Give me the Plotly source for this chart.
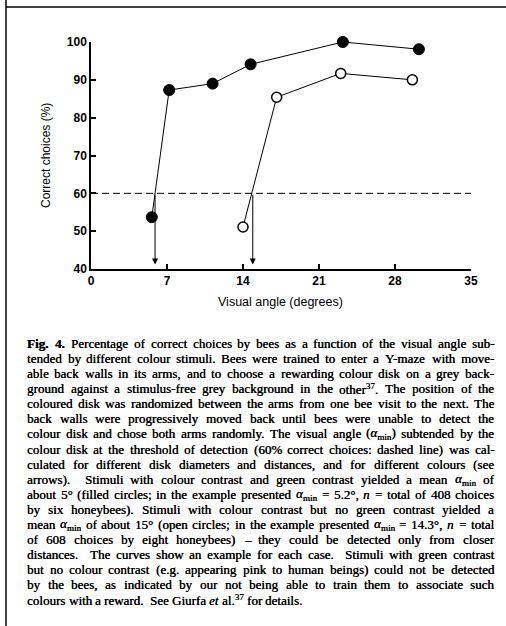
import re
import plotly.graph_objects as go

# ---- data ----
filled_x = [5.6, 7.2, 11.2, 14.7, 23.2, 30.2]
filled_y = [53.7, 87.3, 89.0, 94.1, 100.0, 98.1]
open_x = [14.0, 17.1, 23.0, 29.6]
open_y = [51.1, 85.4, 91.7, 90.0]
threshold = 60
arrow_x = [5.9, 14.9]
x_ticks = [0, 7, 14, 21, 28, 35]
y_ticks = [40, 50, 60, 70, 80, 90, 100]

caption_lines = [
    "<b>Fig.</b> <b>4.</b> Percentage of correct choices by bees as a function of the visual angle sub-",
    "tended by different colour stimuli. Bees were trained to enter a Y-maze with move-",
    "able back walls in its arms, and to choose a rewarding colour disk on a grey back-",
    "ground against a stimulus-free grey background in the other<sup>37</sup>. The position of the",
    "coloured disk was randomized between the arms from one bee visit to the next. The",
    "back walls were progressively moved back until bees were unable to detect the",
    "colour disk and chose both arms randomly. The visual angle (<i>α</i><sub>min</sub>) subtended by the",
    "colour disk at the threshold of detection (60% correct choices: dashed line) was cal-",
    "culated for different disk diameters and distances, and for different colours (see",
    "arrows).  Stimuli with colour contrast and green contrast yielded a mean <i>α</i><sub>min</sub> of",
    "about 5° (filled circles; in the example presented <i>α</i><sub>min</sub> = 5.2°, <i>n</i> = total of 408 choices",
    "by six honeybees). Stimuli with colour contrast but no green contrast yielded a",
    "mean <i>α</i><sub>min</sub> of about 15° (open circles; in the example presented <i>α</i><sub>min</sub> = 14.3°, <i>n</i> = total",
    "of 608 choices by eight honeybees) – they could be detected only from closer",
    "distances.  The curves show an example for each case.  Stimuli with green contrast",
    "but no colour contrast (e.g. appearing pink to human beings) could not be detected",
    "by the bees, as indicated by our not being able to train them to associate such",
    "colours with a reward.  See Giurfa <i>et al.</i><sup>37</sup> for details.",
]

W, H = 506, 626
ML, MR, MT, MB = 91, 35, 42, 357
PW, PH = W - ML - MR, H - MT - MB


def px(x):
    return (x - ML) / PW


def py(y):
    return (H - MB - y) / PH


# approximate Times (Liberation Serif) advance widths, per 1000 em
TW = {' ': 250, 'a': 444, 'b': 500, 'c': 444, 'd': 500, 'e': 444, 'f': 333, 'g': 500,
      'h': 500, 'i': 278, 'j': 278, 'k': 500, 'l': 278, 'm': 778, 'n': 500, 'o': 500,
      'p': 500, 'q': 500, 'r': 333, 's': 389, 't': 278, 'u': 500, 'v': 500, 'w': 722,
      'x': 500, 'y': 500, 'z': 444, 'A': 722, 'B': 667, 'C': 667, 'D': 722, 'E': 611,
      'F': 556, 'G': 722, 'H': 722, 'I': 333, 'J': 389, 'K': 722, 'L': 611, 'M': 889,
      'N': 722, 'O': 722, 'P': 556, 'Q': 722, 'R': 667, 'S': 556, 'T': 611, 'U': 722,
      'V': 722, 'W': 944, 'X': 722, 'Y': 722, 'Z': 611, '.': 250, ',': 250, ';': 278,
      ':': 278, '(': 333, ')': 333, '-': 333, '–': 500, '%': 833, '°': 400, '=': 564,
      'α': 520}


def word_width(html, size):
    total = 0.0
    scale = 1.0
    bold = False
    for tok in re.split(r'(<[^>]+>)', html):
        if tok.startswith('<'):
            t = tok.strip('<>/').lower()
            closing = tok.startswith('</')
            if t in ('sub', 'sup'):
                scale = 1.0 if closing else 0.7
            elif t == 'b':
                bold = not closing
            continue
        for ch in tok:
            w = TW.get(ch, 500)
            if bold:
                w *= 1.08
            total += w * scale
    return total * size / 1000.0


FS = 13
X_LEFT, X_RIGHT = 26, 493
Y0, DY = 343.3, 15.1
cap_font = dict(family="Liberation Serif", size=FS, color="black",
                shadow="0.35px 0px 0px #000")

fig = go.Figure()

fig.add_trace(go.Scatter(
    x=filled_x, y=filled_y, mode="lines+markers",
    line=dict(color="black", width=1),
    marker=dict(color="black", size=11, line=dict(color="black", width=1)),
    cliponaxis=False, showlegend=False, hoverinfo="skip"))

fig.add_trace(go.Scatter(
    x=open_x, y=open_y, mode="lines+markers",
    line=dict(color="black", width=1),
    marker=dict(color="white", size=10, line=dict(color="black", width=1.5)),
    cliponaxis=False, showlegend=False, hoverinfo="skip"))

shapes = [
    dict(type="line", xref="x", yref="y", x0=0, x1=35, y0=threshold, y1=threshold,
         line=dict(color="black", width=1, dash="7px,4px")),
    # page frame
    dict(type="line", xref="paper", yref="paper", x0=px(6), x1=px(6), y0=py(0), y1=py(626),
         line=dict(color="black", width=1.5)),
    dict(type="line", xref="paper", yref="paper", x0=px(6), x1=px(506), y0=py(7), y1=py(7),
         line=dict(color="black", width=1.5)),
]

annotations = []
for ax_ in arrow_x:
    annotations.append(dict(
        x=ax_, y=41.2, ax=ax_, ay=threshold, xref="x", yref="y", axref="x", ayref="y",
        showarrow=True, arrowhead=2, arrowsize=1.2, arrowwidth=1, arrowcolor="black", text=""))

n_lines = len(caption_lines)
for i, line in enumerate(caption_lines):
    yy = py(Y0 + i * DY)
    parts = line.split(' ')
    words, gaps = [], []
    g = 0
    for p in parts:
        if p == '':
            g += 1
            continue
        if words:
            gaps.append(g + 1)
        words.append(p)
        g = 0
    widths = [word_width(w, FS) for w in words]
    last = (i == n_lines - 1)
    if last:
        unit = 0.25 * FS
    else:
        unit = (X_RIGHT - X_LEFT - sum(widths)) / max(sum(gaps), 1)
    x = X_LEFT
    for k, w in enumerate(words):
        annotations.append(dict(
            x=px(x), y=yy, xref="paper", yref="paper", xanchor="left",
            yanchor="middle", showarrow=False, text=w, font=cap_font, borderpad=0))
        x += widths[k]
        if k < len(gaps):
            x += gaps[k] * unit

annotations.append(dict(
    x=px(280), y=py(302), xref="paper", yref="paper", showarrow=False,
    text="Visual angle (degrees)", xanchor="center", yanchor="middle",
    font=dict(family="Liberation Sans", size=12.5, color="black")))
annotations.append(dict(
    x=px(46), y=py(156), xref="paper", yref="paper", showarrow=False,
    text="Correct choices (%)", textangle=-90, xanchor="center", yanchor="middle",
    font=dict(family="Liberation Sans", size=12, color="black")))

tick_font = dict(family="Liberation Sans", size=12, color="black", weight="bold")
fig.update_layout(
    width=W, height=H,
    margin=dict(l=ML, r=MR, t=MT, b=MB),
    paper_bgcolor="white", plot_bgcolor="white",
    hovermode=False,
    shapes=shapes, annotations=annotations,
    xaxis=dict(range=[0, 35], tickvals=x_ticks, ticktext=[str(t) for t in x_ticks],
               showgrid=False, zeroline=False, showline=True, linecolor="black", linewidth=1.5,
               ticks="inside", ticklen=5, tickcolor="black", tickwidth=1.5,
               tickfont=tick_font),
    yaxis=dict(range=[40, 100], tickvals=y_ticks, ticktext=[str(t) for t in y_ticks],
               showgrid=False, zeroline=False, showline=True, linecolor="black", linewidth=1.5,
               ticks="inside", ticklen=5, tickcolor="black", tickwidth=1.5,
               tickfont=tick_font),
)

fig.write_html("out.html", config={"displayModeBar": False},
               post_script="document.body.style.margin='0px';")
